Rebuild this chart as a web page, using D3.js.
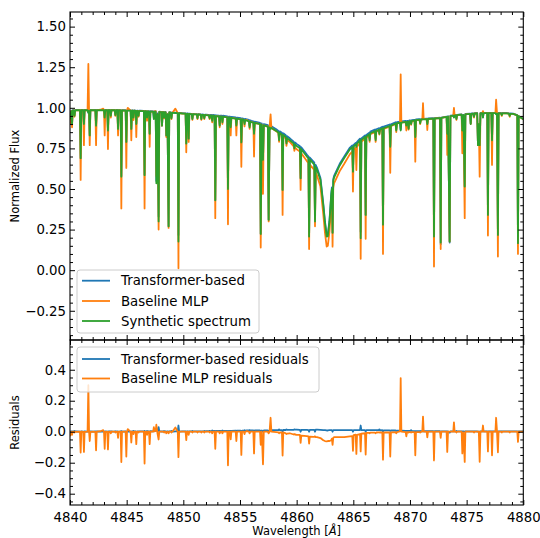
<!DOCTYPE html>
<html><head><meta charset="utf-8">
<script src="https://cdn.jsdelivr.net/npm/d3@7"></script>
<style>
body{margin:0;background:#fff}
svg{display:block}
text{font-family:"DejaVu Sans",sans-serif;fill:#000}
</style>
</head><body>
<svg id="chart" width="540" height="538"></svg>
<script>
// ---------- data ----------
const wave = [
 4840.00,4840.12,4840.18,4840.24,4840.55,4840.88,4840.94,4841.00,4841.17,4841.23,4841.29,4841.55,4841.62,4841.68,4841.74,4841.80,4842.05,
 4842.24,4842.30,4842.36,4842.70,4842.93,4843.00,4843.06,4843.12,4843.29,4843.35,4843.41,4843.80,4844.18,4844.24,4844.30,
 4844.47,4844.53,4844.59,4844.91,4844.97,4845.03,4845.10,4845.35,4845.41,4845.47,4845.79,4845.85,4845.91,4846.20,
 4846.52,4846.58,4846.64,4846.97,4847.03,4847.09,4847.34,4847.40,4847.46,4847.56,4847.62,4847.72,4847.82,4847.88,4848.06,4848.12,4848.18,
 4848.44,4848.50,4848.60,4848.70,4848.76,4849.10,4849.30,4849.51,4849.57,4849.63,4849.90,4850.20,4850.26,4850.32,4850.41,4850.47,4850.53,
 4851.00,4851.53,4851.59,4851.65,4852.00,4852.26,4852.32,4852.38,4852.76,4852.82,4852.88,4853.15,4853.21,4853.27,
 4853.60,4853.88,4853.94,4854.00,4854.12,4854.18,4854.24,4854.62,4854.68,4854.74,4855.06,4855.12,4855.18,
 4855.60,4856.00,4856.18,4856.24,4856.30,4856.77,4856.83,4856.92,4857.03,4857.10,4857.46,4857.53,4857.61,4857.70,4857.77,
 4858.20,4858.70,4858.76,4858.82,4859.40,4860.00,4860.29,4860.35,4860.41,4860.90,4861.04,4861.10,4861.16,
 4861.50,4861.56,4861.62,4861.68,4861.80,4862.10,4862.35,4862.50,4862.65,4862.75,4862.90,4863.05,4863.11,4863.17,4863.23,4863.30,
 4863.80,4864.20,4864.70,4864.91,4864.97,4865.03,4865.21,4865.27,4865.33,4865.59,4865.65,4865.71,4866.03,4866.09,4866.15,
 4866.38,4866.44,4866.50,4866.91,4866.97,4867.03,4867.56,4867.62,4867.68,4868.20,4868.26,4868.32,
 4868.73,4868.79,4868.85,4869.12,4869.18,4869.24,4869.62,4869.68,4869.74,4869.82,4869.88,4869.94,4870.41,4870.47,4870.53,
 4871.09,4871.15,4871.21,4871.47,4871.53,4871.59,4872.06,4872.12,4872.18,4872.65,4872.71,4872.77,
 4873.23,4873.29,4873.36,4873.50,4873.57,4873.82,4873.88,4873.94,4874.30,4874.56,4874.62,4874.72,4874.83,4874.89,4875.30,4875.36,4875.42,
 4875.93,4876.00,4876.075,4876.15,4876.22,4876.38,4876.44,4876.50,4876.82,4876.88,4876.94,4877.18,4877.24,4877.30,
 4877.54,4877.60,4877.68,4877.76,4877.82,4878.50,4879.10,4879.47,4879.53,4879.59,4880.00
];
const synthetic = [
 0.93,0.98,0.90,0.983,0.985,0.985,0.69,0.985,0.985,0.90,0.985,0.985,0.97,0.98,0.83,0.985,0.985,
 0.985,0.89,0.985,0.985,0.985,0.985,0.94,0.985,0.985,0.86,0.985,0.985,0.985,0.87,0.985,
 0.984,0.576,0.984,0.983,0.79,0.983,0.983,0.983,0.87,0.982,0.981,0.90,0.981,0.98,
 0.979,0.585,0.979,0.977,0.84,0.977,0.976,0.93,0.975,0.975,0.535,0.96,0.30,0.974,0.973,0.89,0.973,
 0.972,0.83,0.96,0.27,0.971,0.969,0.968,0.967,0.176,0.967,0.965,0.964,0.78,0.963,0.963,0.81,0.962,
 0.96,0.958,0.93,0.957,0.955,0.953,0.935,0.952,0.95,0.43,0.949,0.947,0.89,0.946,
 0.944,0.941,0.50,0.94,0.939,0.88,0.938,0.934,0.89,0.933,0.929,0.787,0.928,
 0.921,0.912,0.909,0.84,0.907,0.899,0.223,0.896,0.68,0.892,0.884,0.31,0.879,0.87,0.876,
 0.858,0.836,0.494,0.832,0.80,0.765,0.751,0.566,0.745,0.70,0.69,0.207,0.682,
 0.655,0.65,0.30,0.635,0.617,0.556,0.40,0.29,0.207,0.21,0.30,0.46,0.50,0.23,0.55,0.57,
 0.645,0.69,0.745,0.758,0.607,0.762,0.774,0.76,0.78,0.80,0.197,0.802,0.82,0.34,0.823,
 0.835,0.80,0.843,0.856,0.80,0.858,0.873,0.28,0.875,0.888,0.76,0.89,
 0.903,0.86,0.905,0.908,0.86,0.909,0.913,0.89,0.914,0.915,0.87,0.917,0.922,0.82,0.924,
 0.928,0.93,0.929,0.93,0.90,0.931,0.933,0.207,0.934,0.937,0.17,0.938,
 0.944,0.84,0.946,0.176,0.949,0.952,0.94,0.953,0.956,0.958,0.86,0.955,0.515,0.96,0.962,0.90,0.963,
 0.966,0.77,0.90,0.77,0.966,0.967,0.94,0.967,0.967,0.34,0.967,0.967,0.80,0.967,
 0.967,0.96,0.965,0.217,0.966,0.966,0.962,0.953,0.166,0.948,0.93
];
const transformer = [
 0.93,0.982,0.90,0.985,0.987,0.986,0.69,0.987,0.986,0.90,0.987,0.986,0.97,0.982,0.83,0.987,0.986,
 0.987,0.89,0.987,0.986,0.987,0.986,0.94,0.987,0.986,0.86,0.987,0.986,0.987,0.87,0.986,
 0.986,0.58,0.985,0.985,0.79,0.984,0.985,0.984,0.87,0.984,0.983,0.90,0.982,0.982,
 0.981,0.59,0.98,0.979,0.84,0.98,0.978,0.935,0.978,0.98,0.55,0.965,0.33,0.976,0.975,0.89,0.975,
 0.974,0.83,0.962,0.27,0.973,0.97,0.97,0.969,0.216,0.968,0.967,0.966,0.78,0.965,0.965,0.81,0.964,
 0.962,0.96,0.932,0.959,0.958,0.957,0.94,0.956,0.955,0.43,0.954,0.952,0.895,0.951,
 0.95,0.947,0.50,0.946,0.945,0.885,0.944,0.941,0.895,0.94,0.936,0.787,0.935,
 0.929,0.92,0.917,0.845,0.915,0.907,0.223,0.904,0.68,0.90,0.893,0.31,0.888,0.88,0.886,
 0.868,0.846,0.494,0.843,0.812,0.778,0.763,0.566,0.757,0.712,0.70,0.207,0.694,
 0.667,0.662,0.30,0.648,0.63,0.568,0.41,0.30,0.215,0.218,0.31,0.47,0.51,0.23,0.56,0.58,
 0.655,0.70,0.755,0.768,0.607,0.772,0.784,0.77,0.79,0.81,0.237,0.812,0.83,0.34,0.833,
 0.845,0.81,0.853,0.866,0.81,0.868,0.883,0.28,0.884,0.897,0.765,0.898,
 0.911,0.865,0.912,0.915,0.865,0.916,0.919,0.895,0.92,0.92,0.875,0.922,0.926,0.822,0.928,
 0.931,0.933,0.932,0.933,0.903,0.934,0.936,0.207,0.937,0.94,0.16,0.94,
 0.946,0.842,0.948,0.17,0.951,0.954,0.942,0.955,0.958,0.96,0.862,0.957,0.515,0.962,0.964,0.902,0.965,
 0.968,0.77,0.90,0.77,0.968,0.969,0.942,0.969,0.969,0.34,0.969,0.969,0.802,0.969,
 0.969,0.962,0.967,0.217,0.968,0.968,0.964,0.955,0.166,0.95,0.932
];
const baselineMLP = [
 0.90,0.98,0.88,0.983,0.984,0.985,0.556,0.985,0.984,0.77,0.984,0.985,1.27,0.985,0.77,0.984,0.985,
 0.984,0.77,0.985,0.988,0.995,0.985,0.83,0.984,0.985,0.746,0.984,0.985,0.984,0.83,0.985,
 0.984,0.38,0.984,0.983,0.63,0.983,1.00,0.982,0.80,0.982,0.981,0.82,0.981,0.98,
 0.979,0.38,0.979,0.977,0.76,0.977,0.976,0.96,0.978,0.98,0.58,0.95,0.25,0.974,0.973,0.89,0.973,
 0.972,0.82,0.96,0.26,0.971,0.975,0.995,0.967,0.012,0.967,0.965,0.964,0.726,0.963,0.963,0.79,0.962,
 0.96,0.958,0.925,0.957,0.955,0.953,0.93,0.952,0.95,0.32,0.949,0.947,0.88,0.946,
 0.944,0.941,0.283,0.94,0.939,0.83,0.938,0.934,0.83,0.933,0.929,0.637,0.928,
 0.925,0.912,0.909,0.70,0.907,0.899,0.139,0.896,0.47,0.892,0.884,0.30,0.879,0.96,0.876,
 0.856,0.832,0.34,0.828,0.79,0.745,0.73,0.494,0.72,0.672,0.66,0.13,0.65,
 0.622,0.617,0.27,0.60,0.582,0.515,0.345,0.23,0.145,0.15,0.24,0.405,0.455,0.145,0.51,0.535,
 0.61,0.655,0.715,0.73,0.484,0.74,0.755,0.617,0.76,0.785,0.07,0.79,0.81,0.193,0.815,
 0.828,0.79,0.837,0.85,0.79,0.853,0.868,0.10,0.87,0.884,0.60,0.886,
 0.90,0.85,0.902,0.91,1.206,0.91,0.91,0.86,0.912,0.913,0.865,0.915,0.92,0.668,0.922,
 0.93,1.028,0.93,0.93,0.863,0.931,0.933,0.022,0.934,0.937,0.13,0.938,
 0.944,0.71,0.946,0.176,0.949,0.952,1.00,0.953,0.956,0.958,0.72,0.95,0.32,0.96,0.962,0.90,0.963,
 0.966,0.77,0.90,0.576,0.966,0.967,0.98,0.967,0.967,0.213,0.967,0.967,0.648,0.967,
 0.967,1.05,0.965,0.084,0.966,0.966,0.962,0.953,0.10,0.948,0.93
];
// weaker lines (shoulder, core, shoulder)
const weakWave = [
 4840.34,4840.40,4840.46, 4843.54,4843.60,4843.66, 4843.94,4844.00,4844.06, 4845.54,4845.60,4845.66,
 4845.99,4846.05,4846.11, 4846.74,4846.80,4846.86, 4848.24,4848.30,4848.36, 4848.89,4848.95,4849.01,
 4850.74,4850.80,4850.86, 4851.19,4851.25,4851.31, 4851.79,4851.85,4851.91, 4852.49,4852.55,4852.61,
 4853.39,4853.45,4853.51, 4855.34,4855.40,4855.46, 4855.79,4855.85,4855.91, 4858.39,4858.45,4858.51,
 4859.04,4859.10,4859.16, 4859.74,4859.80,4859.86, 4867.24,4867.30,4867.36, 4870.04,4870.10,4870.16,
 4870.84,4870.90,4870.96, 4874.04,4874.10,4874.16, 4875.59,4875.65,4875.71, 4878.04,4878.10,4878.16,
 4878.74,4878.80,4878.86
];
const weakSynthetic = [
 0.984,0.95,0.984, 0.985,0.95,0.985, 0.985,0.955,0.985, 0.982,0.94,0.982,
 0.98,0.95,0.98, 0.978,0.94,0.978, 0.973,0.94,0.972, 0.97,0.935,0.969,
 0.961,0.93,0.961, 0.959,0.935,0.959, 0.956,0.935,0.956, 0.951,0.92,0.951,
 0.945,0.91,0.945, 0.925,0.90,0.924, 0.917,0.88,0.915, 0.848,0.80,0.845,
 0.82,0.78,0.813, 0.78,0.75,0.773, 0.864,0.84,0.867, 0.918,0.90,0.919,
 0.927,0.905,0.927, 0.954,0.93,0.955, 0.964,0.945,0.965, 0.966,0.955,0.966,
 0.964,0.95,0.963
];
const weakTransformer = [
 0.986,0.955,0.986, 0.987,0.952,0.987, 0.987,0.958,0.986, 0.984,0.945,0.984,
 0.982,0.952,0.982, 0.98,0.945,0.98, 0.975,0.944,0.974, 0.972,0.94,0.971,
 0.963,0.935,0.963, 0.961,0.938,0.961, 0.958,0.94,0.958, 0.956,0.928,0.956,
 0.951,0.918,0.951, 0.932,0.91,0.931, 0.925,0.89,0.923, 0.858,0.815,0.855,
 0.831,0.795,0.825, 0.792,0.765,0.786, 0.874,0.855,0.876, 0.923,0.91,0.924,
 0.93,0.91,0.93, 0.956,0.935,0.957, 0.966,0.948,0.967, 0.968,0.958,0.968,
 0.966,0.953,0.965
];
const weakMLP = [
 0.984,0.945,0.984, 0.985,0.94,0.985, 0.985,0.95,0.985, 0.982,0.925,0.982,
 0.98,0.945,0.98, 0.978,0.92,0.978, 0.973,0.935,0.972, 0.97,0.93,0.969,
 0.961,0.925,0.961, 0.959,0.93,0.959, 0.956,0.93,0.956, 0.951,0.91,0.951,
 0.945,0.90,0.945, 0.925,0.885,0.924, 0.917,0.87,0.915, 0.844,0.79,0.84,
 0.81,0.765,0.80, 0.762,0.735,0.755, 0.86,0.835,0.862, 0.916,0.895,0.917,
 0.925,0.90,0.925, 0.954,0.925,0.955, 0.964,0.94,0.965, 0.966,0.95,0.966,
 0.964,0.945,0.963
];
const xTicks = [4840, 4845, 4850, 4855, 4860, 4865, 4870, 4875, 4880];
const fluxTicks = [-0.25, 0.00, 0.25, 0.50, 0.75, 1.00, 1.25, 1.50];
const residualTicks = [-0.4, -0.2, 0.0, 0.2, 0.4];
const topLegend = ["Transformer-based", "Baseline MLP", "Synthetic spectrum"];
const bottomLegend = ["Transformer-based residuals", "Baseline MLP residuals"];

// ---------- layout ----------
const C = {blue:"#1f77b4", orange:"#ff7f0e", green:"#2ca02c"};
const L = 70, R = 523.3, T1 = 12, B1 = 340, T2 = 340, B2 = 505;
const svg = d3.select("#chart");

const W = wave.concat(weakWave);
const S = synthetic.concat(weakSynthetic);
const Tr = transformer.concat(weakTransformer);
const M = baselineMLP.concat(weakMLP);
if (W.length !== S.length || W.length !== Tr.length || W.length !== M.length) {
  console.error("length mismatch", W.length, S.length, Tr.length, M.length);
}
const n = Math.min(W.length, S.length, Tr.length, M.length);
const idx = d3.range(n).sort((a, b) => W[a] - W[b]);
const resT = Tr.map((v, i) => v - S[i]);
const resM = M.map((v, i) => v - S[i]);

const x = d3.scaleLinear().domain([4840, 4880]).range([L, R]);
const yTop = d3.scaleLinear().domain([-0.43, 1.59]).range([B1, T1]);
const yBot = d3.scaleLinear().domain([-0.473, 0.592]).range([B2, T2]);

const defs = svg.append("defs");
defs.append("clipPath").attr("id","clipTop").append("rect").attr("x",L).attr("y",T1).attr("width",R-L).attr("height",B1-T1);
defs.append("clipPath").attr("id","clipBot").append("rect").attr("x",L).attr("y",T2).attr("width",R-L).attr("height",B2-T2);

function drawSeries(clip, y, arr, color, w) {
  const line = d3.line().x(i => x(W[i])).y(i => y(arr[i]));
  svg.append("path").attr("clip-path", `url(#${clip})`)
    .attr("d", line(idx)).attr("fill","none").attr("stroke", color)
    .attr("stroke-width", w).attr("stroke-linejoin","round").attr("stroke-linecap","butt");
}
drawSeries("clipTop", yTop, Tr, C.blue, 1.8);
drawSeries("clipTop", yTop, M, C.orange, 1.8);
drawSeries("clipTop", yTop, S, C.green, 1.8);
drawSeries("clipBot", yBot, resT, C.blue, 1.8);
drawSeries("clipBot", yBot, resM, C.orange, 1.8);

// ---------- axes ----------
const xMinor = d3.range(4840, 4881, 1).filter(v => v % 5 !== 0);
function axes(y, top, bottom, majors, minors, fmt, showX) {
  const strip = g => g.select(".domain").remove();
  const style = g => { g.selectAll("line").attr("stroke","#000").attr("stroke-width",1);
                       g.selectAll("text").style("font-size","13.3px").style("font-family","DejaVu Sans"); };
  svg.append("g").attr("transform",`translate(0,${bottom})`)
    .call(d3.axisBottom(x).tickValues(xTicks).tickSize(-5).tickPadding(8).tickFormat(showX ? d3.format("d") : ""))
    .call(strip).call(style);
  svg.append("g").attr("transform",`translate(0,${bottom})`)
    .call(d3.axisBottom(x).tickValues(xMinor).tickSize(-3).tickFormat("")).call(strip).call(style);
  svg.append("g").attr("transform",`translate(0,${top})`)
    .call(d3.axisTop(x).tickValues(xTicks).tickSize(-5).tickFormat("")).call(strip).call(style);
  svg.append("g").attr("transform",`translate(0,${top})`)
    .call(d3.axisTop(x).tickValues(xMinor).tickSize(-3).tickFormat("")).call(strip).call(style);
  svg.append("g").attr("transform",`translate(${L},0)`)
    .call(d3.axisLeft(y).tickValues(majors).tickSize(-5).tickPadding(4).tickFormat(fmt)).call(strip).call(style);
  svg.append("g").attr("transform",`translate(${L},0)`)
    .call(d3.axisLeft(y).tickValues(minors).tickSize(-3).tickFormat("")).call(strip).call(style);
  svg.append("g").attr("transform",`translate(${R},0)`)
    .call(d3.axisRight(y).tickValues(majors).tickSize(-5).tickFormat("")).call(strip).call(style);
  svg.append("g").attr("transform",`translate(${R},0)`)
    .call(d3.axisRight(y).tickValues(minors).tickSize(-3).tickFormat("")).call(strip).call(style);
  svg.append("rect").attr("x",L).attr("y",top).attr("width",R-L).attr("height",bottom-top)
    .attr("fill","none").attr("stroke","#000").attr("stroke-width",1.1);
}
const topMinor = d3.range(-40, 159, 5).map(v => v/100).filter(v => Math.abs((v*100) % 25) > 0.01);
const botMinor = d3.range(-45, 56, 5).map(v => v/100).filter(v => Math.abs((v*100) % 20) > 0.01);
axes(yTop, T1, B1, fluxTicks, topMinor, d3.format(".2f"), false);
axes(yBot, T2, B2, residualTicks, botMinor, d3.format(".1f"), true);

// ---------- labels ----------
svg.append("text").attr("transform",`translate(19,${(T1+B1)/2}) rotate(-90)`)
  .attr("text-anchor","middle").style("font-size","11.5px").text("Normalized Flux");
svg.append("text").attr("transform",`translate(19,${(T2+B2)/2}) rotate(-90)`)
  .attr("text-anchor","middle").style("font-size","11.5px").text("Residuals");
const xl = svg.append("text").attr("x",(L+R)/2).attr("y",535).attr("text-anchor","middle").style("font-size","11.5px");
xl.append("tspan").text("Wavelength [");
xl.append("tspan").style("font-style","italic").text("Å");
xl.append("tspan").text("]");

// ---------- legends ----------
function legend(x0, y0, w, h, labels, colors, rowY) {
  svg.append("rect").attr("x",x0).attr("y",y0).attr("width",w).attr("height",h).attr("rx",3)
    .attr("fill","#fff").attr("fill-opacity",0.8).attr("stroke","#cccccc").attr("stroke-width",1);
  labels.forEach((lab, i) => {
    const yy = rowY[i];
    svg.append("line").attr("x1",82).attr("x2",110).attr("y1",yy).attr("y2",yy)
      .attr("stroke",colors[i]).attr("stroke-width",1.8);
    svg.append("text").attr("x",121).attr("y",yy+4.7).style("font-size","13.3px").text(lab);
  });
}
legend(77, 270, 182, 63, topLegend, [C.blue, C.orange, C.green], [280.7, 301, 321]);
legend(77, 347, 242, 45, bottomLegend, [C.blue, C.orange], [359, 378.5]);
</script>
</body></html>
